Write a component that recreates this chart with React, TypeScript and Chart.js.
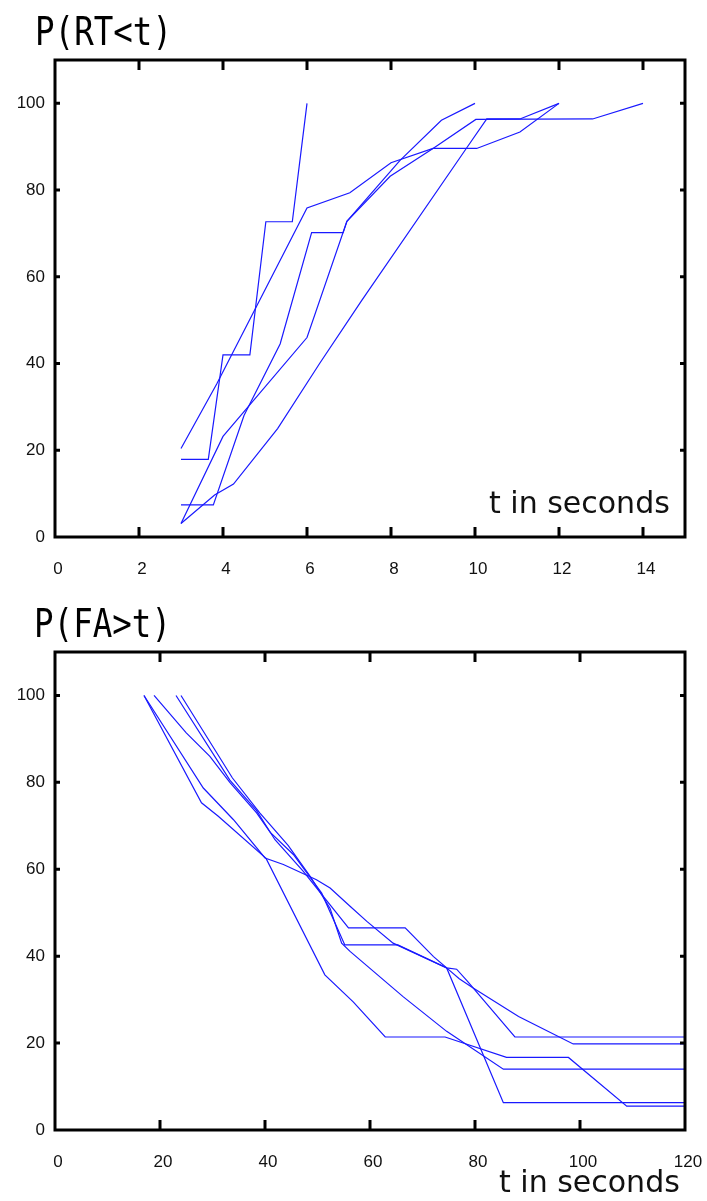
import React, { useEffect, useRef } from 'react';
import { Chart, registerables } from 'chart.js';
Chart.register(...registerables);

// ---------- Top chart: P(RT<t) ----------
const rt1T = [3, 3.65, 4.0, 4.64, 5.02, 5.65, 6];
const rt1P = [17.9, 17.9, 42, 42, 72.7, 72.7, 100];
const rt2T = [3, 3.85, 6, 7.02, 8, 9, 10.04, 11.07, 12];
const rt2P = [20.4, 35.3, 75.9, 79.4, 86.3, 89.6, 89.6, 93.4, 100];
const rt3T = [3, 3.77, 4.5, 5.36, 6.11, 6.86, 6.95, 7.98, 9, 10.02, 12.8, 14];
const rt3P = [7.4, 7.4, 28, 44.5, 70.2, 70.2, 72.8, 83.2, 89.6, 96.3, 96.4, 100];
const rt4T = [3, 4, 6, 6.95, 8.21, 9.2, 10];
const rt4P = [3.1, 23.2, 46, 72.8, 86.8, 96.1, 100];
const rt5T = [3, 3.8, 4.25, 5.3, 6.3, 7.3, 9.8, 10.28, 11.07, 12];
const rt5P = [3.1, 9.7, 12.2, 25, 40, 54.5, 89.7, 96.4, 96.4, 100];

// ---------- Bottom chart: P(FA>t) ----------
const fa1T = [16.95, 28.25, 34, 40, 43.5, 49.8, 52.4, 56.2, 59.4, 64.4, 74.6, 77, 79.5, 88.3, 98.7, 120];
const fa1P = [100, 78.7, 71.4, 62.6, 61.1, 57.6, 55.7, 51.5, 48, 43, 37.3, 34.8, 32.8, 26.1, 19.8, 19.8];
const fa2T = [16.95, 27.9, 31.1, 40.2, 51.4, 56.8, 62.9, 74.3, 86, 97.8, 108.9, 120];
const fa2P = [100, 75.3, 72.2, 62.5, 35.7, 29.5, 21.4, 21.4, 16.7, 16.7, 5.5, 5.5];
const fa3T = [18.86, 25, 29.5, 33.3, 38.4, 41, 45.4, 50.8, 55.2, 65.3, 74.6, 76.5, 78.5, 87.6, 120];
const fa3P = [100, 91.4, 86, 80, 73, 68.5, 63.4, 54.5, 42.6, 42.6, 37.3, 37, 34.3, 21.4, 21.4];
const fa4T = [23.05, 33.3, 38.4, 41.9, 47.3, 52.4, 55.9, 66.7, 72.1, 74.6, 85.4, 120];
const fa4P = [100, 80.5, 73.5, 66.8, 59.5, 51.8, 46.5, 46.5, 39.9, 37.3, 6.3, 6.3];
const fa5T = [24, 33.8, 39, 44.4, 48.6, 52.4, 54.6, 56.2, 66.3, 74.6, 85.4, 120];
const fa5P = [100, 81, 73, 65.5, 58.4, 51, 43, 41.1, 30.7, 22.7, 14, 14];

// axis settings
const rtXMin = 0, rtXMax = 15, rtXStep = 2, rtXLastTick = 14;
const faXMin = 0, faXMax = 120, faXStep = 20, faXLastTick = 120;
const yMin = 0, yMax = 110, yStep = 20, yLastTick = 100;

const rtTitle = 'P(RT<t)';
const faTitle = 'P(FA>t)';
const xTitle = 't in seconds';

const BLUE = 'rgb(25,25,255)';

function pts(t: number[], p: number[]) {
  return t.map((x, i) => ({ x, y: p[i] }));
}

type TextCfg = { titleX: number; titleY: number; xlabX: number; xlabY: number };

function makePlugin(title: string, cfg: TextCfg) {
  return {
    id: 'frameText',
    afterDraw(chart: any) {
      const { ctx, chartArea } = chart;
      const { left, top, right, bottom } = chartArea;
      const xs = chart.scales.x;
      const ys = chart.scales.y;
      ctx.save();
      ctx.strokeStyle = '#000';
      ctx.lineWidth = 3;
      ctx.lineCap = 'butt';
      ctx.strokeRect(left, top, right - left, bottom - top);
      ctx.beginPath();
      for (const tk of xs.ticks) {
        const px = xs.getPixelForValue(tk.value);
        if (px <= left + 2 || px >= right - 2) continue;
        ctx.moveTo(px, bottom);
        ctx.lineTo(px, bottom - 10);
        ctx.moveTo(px, top);
        ctx.lineTo(px, top + 10);
      }
      for (const tk of ys.ticks) {
        const py = ys.getPixelForValue(tk.value);
        if (py <= top + 2 || py >= bottom - 2) continue;
        ctx.moveTo(left, py);
        ctx.lineTo(left + 5, py);
        ctx.moveTo(right, py);
        ctx.lineTo(right - 5, py);
      }
      ctx.stroke();

      ctx.fillStyle = '#000';
      ctx.textAlign = 'left';
      ctx.textBaseline = 'alphabetic';
      ctx.save();
      ctx.translate(cfg.titleX, cfg.titleY);
      ctx.scale(1, 1.18);
      ctx.font = '32.5px "DejaVu Sans Mono"';
      ctx.fillText(title, 0, 0);
      ctx.restore();

      ctx.font = '30px "DejaVu Sans"';
      ctx.fillStyle = '#111';
      ctx.fillText(xTitle, cfg.xlabX, cfg.xlabY);
      ctx.restore();
    },
  };
}

function buildConfig(
  series: { t: number[]; p: number[] }[],
  xMin: number,
  xMax: number,
  xStep: number,
  xLast: number,
  padTop: number,
  padBottom: number,
  title: string,
  text: TextCfg
) {
  return {
    type: 'line' as const,
    data: {
      datasets: series.map((s) => ({
        data: pts(s.t, s.p),
        borderColor: BLUE,
        borderWidth: 1.2,
        pointRadius: 0,
        fill: false,
        tension: 0,
      })),
    },
    options: {
      animation: false,
      responsive: false,
      events: [],
      layout: { padding: { left: 0, right: 22, top: padTop, bottom: padBottom } },
      plugins: { legend: { display: false }, tooltip: { enabled: false }, title: { display: false } },
      scales: {
        x: {
          type: 'linear',
          min: xMin,
          max: xMax,
          grid: { display: false, drawTicks: false },
          border: { display: false },
          afterFit: (s: any) => {
            s.height = 40;
            s.paddingLeft = 0;
            s.paddingRight = 0;
          },
          afterBuildTicks: (s: any) => {
            s.ticks = s.ticks.filter((t: any) => t.value <= xLast);
          },
          ticks: {
            stepSize: xStep,
            autoSkip: false,
            maxRotation: 0,
            padding: 22,
            labelOffset: 3,
            color: '#111',
            font: { family: '"Liberation Sans"', size: 17 },
          },
        },
        y: {
          type: 'linear',
          min: yMin,
          max: yMax,
          grid: { display: false, drawTicks: false },
          border: { display: false },
          afterFit: (s: any) => {
            s.width = 55;
            s.paddingTop = 0;
            s.paddingBottom = 0;
          },
          afterBuildTicks: (s: any) => {
            s.ticks = s.ticks.filter((t: any) => t.value <= yLastTick);
          },
          ticks: {
            stepSize: yStep,
            autoSkip: false,
            padding: 10,
            color: '#111',
            font: { family: '"Liberation Sans"', size: 17 },
          },
        },
      },
    },
    plugins: [makePlugin(title, text)],
  };
}

function ChartCanvas({ config, width, height }: { config: any; width: number; height: number }) {
  const ref = useRef<HTMLCanvasElement | null>(null);
  useEffect(() => {
    if (!ref.current) return;
    const chart = new Chart(ref.current, config);
    return () => chart.destroy();
  }, [config]);
  return <canvas ref={ref} width={width} height={height} style={{ display: 'block', width, height }} />;
}

const topConfig = buildConfig(
  [
    { t: rt1T, p: rt1P },
    { t: rt2T, p: rt2P },
    { t: rt3T, p: rt3P },
    { t: rt4T, p: rt4P },
    { t: rt5T, p: rt5P },
  ],
  rtXMin,
  rtXMax,
  rtXStep,
  rtXLastTick,
  60,
  18,
  rtTitle,
  { titleX: 35, titleY: 45, xlabX: 489, xlabY: 513 }
);

const bottomConfig = buildConfig(
  [
    { t: fa1T, p: fa1P },
    { t: fa2T, p: fa2P },
    { t: fa3T, p: fa3P },
    { t: fa4T, p: fa4P },
    { t: fa5T, p: fa5P },
  ],
  faXMin,
  faXMax,
  faXStep,
  faXLastTick,
  57,
  31,
  faTitle,
  { titleX: 34, titleY: 42, xlabX: 499, xlabY: 597 }
);

export default function App() {
  return (
    <div style={{ position: 'absolute', left: 0, top: 0, width: 707, height: 1201, background: '#fff' }}>
      <ChartCanvas config={topConfig} width={707} height={595} />
      <ChartCanvas config={bottomConfig} width={707} height={606} />
    </div>
  );
}
